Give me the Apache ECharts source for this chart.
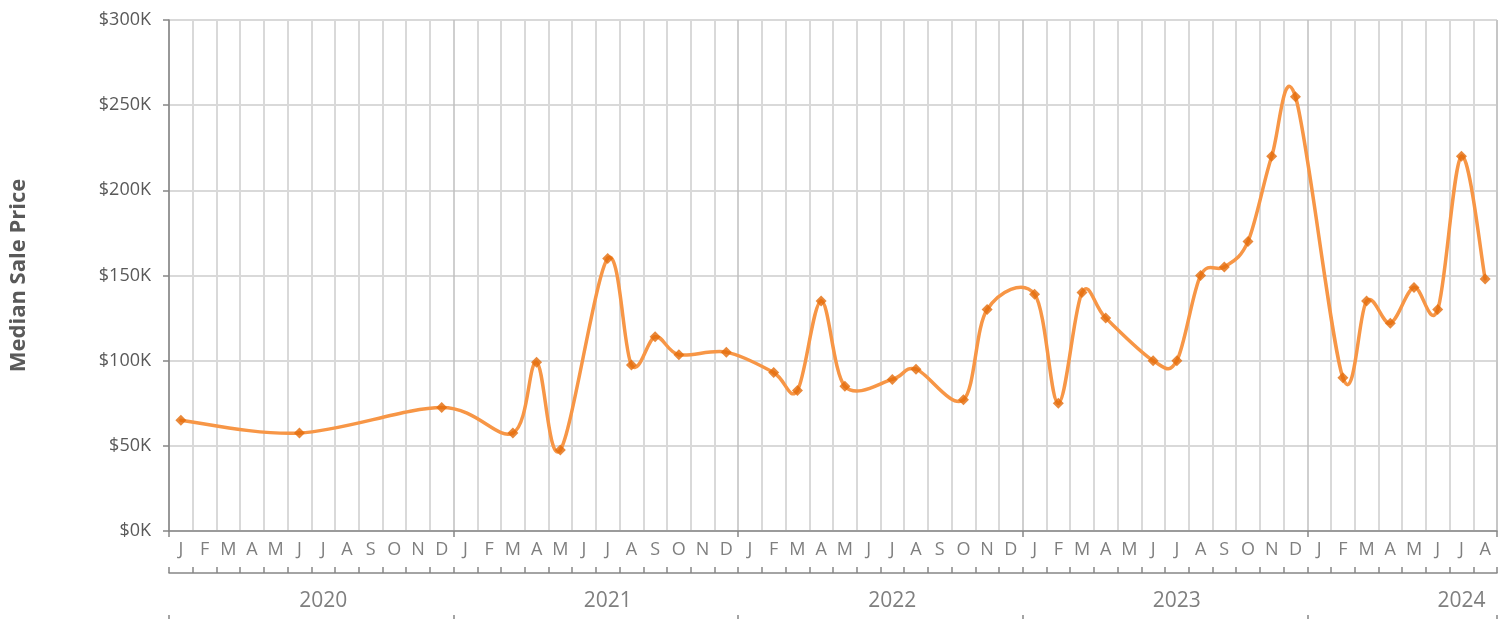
<!DOCTYPE html>
<html>
<head>
<meta charset="utf-8">
<script src="https://cdn.jsdelivr.net/npm/echarts@6/dist/echarts.min.js"></script>
<style>
  html, body { margin: 0; padding: 0; background: #fff; }
  #chart { width: 1512px; height: 619px; }
</style>
</head>
<body>
<div id="chart"></div>
<script>
const years = ['2020', '2021', '2022', '2023', '2024'];
const monthInitials = ['J', 'F', 'M', 'A', 'M', 'J', 'J', 'A', 'S', 'O', 'N', 'D'];
const monthsIn2024 = 8;

// median sale price per month, null = no sales that month
const price2020 = [65000, null, null, null, null, 57500, null, null, null, null, null, 72500];
const price2021 = [null, null, 57500, 99000, 47500, null, 160000, 97500, 114000, 103500, null, 105000];
const price2022 = [null, 93000, 82500, 135000, 85000, null, 89000, 95000, null, 77000, 130000, null];
const price2023 = [139000, 75000, 140000, 125000, null, 100000, 100000, 150000, 155000, 170000, 220000, 255000];
const price2024 = [null, 90000, 135000, 122000, 143000, 130000, 220000, 148000];

const yTicks = [0, 50000, 100000, 150000, 200000, 250000, 300000];

const categories = [];
years.forEach((y, yi) => {
  const n = yi === years.length - 1 ? monthsIn2024 : 12;
  for (let m = 0; m < n; m++) categories.push(y + '-' + (m + 1));
});
const prices = [].concat(price2020, price2021, price2022, price2023, price2024);

// only months with a sale become points; the curve jumps over empty months
const points = [];
prices.forEach((v, i) => { if (v !== null) points.push([i, v]); });

// label each year near the middle of its block
const yearLabelIndex = {};
years.forEach((y, yi) => { yearLabelIndex[yi * 12 + 6] = y; });

const font = '"Open Sans", sans-serif';
const axisGray = '#868686';

// spreadsheet-style spline: cubic bezier per segment, tangents from neighbours
function renderSegment(params, api) {
  const i = params.dataIndex;
  if (i >= points.length - 1) return null;
  const at = (k) => api.coord(points[Math.max(0, Math.min(points.length - 1, k))]);
  const p0 = at(i - 1), p1 = at(i), p2 = at(i + 1), p3 = at(i + 2);
  const t = 1 / 6;
  return {
    type: 'bezierCurve',
    shape: {
      x1: p1[0], y1: p1[1],
      x2: p2[0], y2: p2[1],
      cpx1: p1[0] + (p2[0] - p0[0]) * t,
      cpy1: p1[1] + (p2[1] - p0[1]) * t,
      cpx2: p2[0] - (p3[0] - p1[0]) * t,
      cpy2: p2[1] - (p3[1] - p1[1]) * t
    },
    style: { stroke: '#f79646', lineWidth: 3.5, fill: null, lineCap: 'round' }
  };
}

const chart = echarts.init(document.getElementById('chart'));

chart.setOption({
  animation: false,
  textStyle: { fontFamily: font },
  grid: { left: 169, right: 15, top: 20, bottom: 88 },
  xAxis: [
    {
      type: 'category',
      data: categories,
      boundaryGap: true,
      axisLine: { lineStyle: { color: axisGray, width: 1.5 } },
      axisTick: { show: true, interval: (i) => i % 12 === 0, length: 6, lineStyle: { color: axisGray, width: 1.5 } },
      axisLabel: {
        interval: 0,
        margin: 10,
        color: '#7f7f7f',
        fontSize: 18,
        formatter: (v, i) => monthInitials[i % 12]
      },
      splitLine: {
        show: true,
        interval: (i) => i % 12 !== 0,
        lineStyle: { color: '#d9d9d9', width: 2 }
      }
    },
    {
      type: 'category',
      data: categories,
      boundaryGap: true,
      position: 'bottom',
      offset: 42,
      axisLine: { lineStyle: { color: axisGray, width: 1.5 } },
      axisTick: { show: true, interval: 0, inside: true, length: 6, lineStyle: { color: axisGray, width: 1.5 } },
      axisLabel: { show: false },
      splitLine: {
        show: true,
        interval: (i) => i % 12 === 0,
        lineStyle: { color: '#bfbfbf', width: 1.5 }
      }
    },
    {
      type: 'category',
      data: categories,
      boundaryGap: true,
      position: 'bottom',
      offset: 84,
      axisLine: { show: false },
      axisTick: { show: true, interval: (i) => i % 12 === 0, length: 8, lineStyle: { color: axisGray, width: 1.5 } },
      axisLabel: {
        inside: true,
        margin: 3,
        interval: (i) => yearLabelIndex[i] !== undefined,
        color: '#7f7f7f',
        fontSize: 21,
        formatter: (v, i) => yearLabelIndex[i] || ''
      },
      splitLine: { show: false }
    }
  ],
  yAxis: {
    type: 'value',
    min: yTicks[0],
    max: yTicks[yTicks.length - 1],
    interval: yTicks[1] - yTicks[0],
    name: 'Median Sale Price',
    nameLocation: 'middle',
    nameGap: 139,
    nameTextStyle: { fontSize: 22, fontWeight: 'bold', color: '#595959', fontFamily: font },
    axisLine: { show: true, lineStyle: { color: axisGray, width: 1.5 } },
    axisTick: { show: true, length: 6, lineStyle: { color: axisGray, width: 1.5 } },
    axisLabel: {
      margin: 18,
      color: '#595959',
      fontSize: 18,
      formatter: (v) => '$' + v / 1000 + 'K'
    },
    splitLine: { lineStyle: { color: '#d9d9d9', width: 2 } }
  },
  series: [
    {
      type: 'custom',
      data: points,
      encode: { x: 0, y: 1 },
      renderItem: renderSegment,
      clip: false,
      z: 4
    },
    {
      type: 'scatter',
      data: points,
      symbol: 'diamond',
      symbolSize: 11,
      itemStyle: { color: '#e46c0a' },
      z: 5
    }
  ]
});
</script>
</body>
</html>
